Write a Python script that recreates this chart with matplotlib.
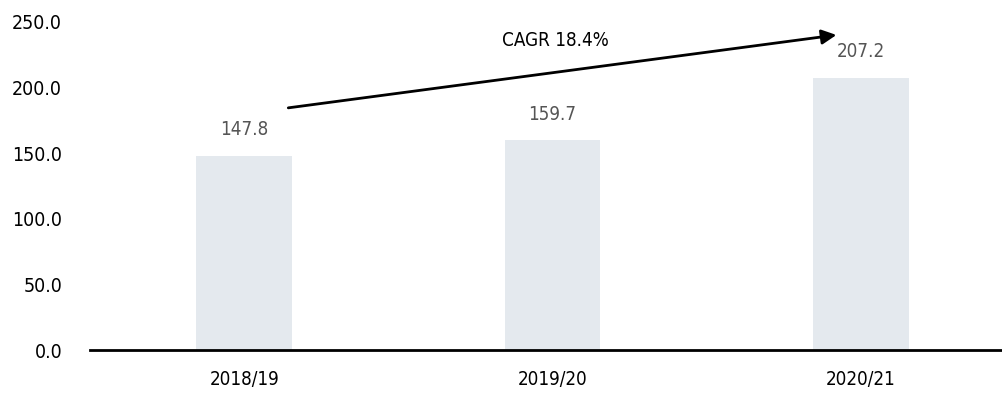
import matplotlib.pyplot as plt

years = ['2018/19', '2019/20', '2020/21']
values = [147.8, 159.7, 207.2]
yticks = [0, 50, 100, 150, 200, 250]
cagr_label = 'CAGR 18.4%'

plt.rcParams['font.family'] = ['DejaVu Sans']
plt.rcParams['font.stretch'] = 'condensed'

fig = plt.figure(figsize=(10.03, 3.97), dpi=100)
ax = fig.add_axes([0.0897, 0.118, 0.9103, 0.827])

x = range(len(years))
ax.bar(x, values, width=0.31, color='#e4e9ee', zorder=1)

for xi, v in zip(x, values):
    ax.annotate(f'{v:.1f}', (xi, v), xytext=(0, 12), textcoords='offset points',
                ha='center', va='bottom', fontsize=13.5, color='#555555')

ax.set_xlim(-0.5, 2.46)
ax.set_ylim(0, 250)
ax.set_yticks(yticks)
ax.set_yticklabels([f'{t:.1f}' for t in yticks])
ax.set_xticks(list(x))
ax.set_xticklabels(years)
ax.tick_params(axis='both', length=0, labelsize=13.5, colors='black')
ax.tick_params(axis='y', pad=20, labelsize=14)
ax.tick_params(axis='x', pad=14)

for s in ['top', 'right', 'left']:
    ax.spines[s].set_visible(False)
ax.spines['bottom'].set_linewidth(2)

# CAGR arrow
ax.annotate('', xy=(1.92, 240), xytext=(0.143, 184.5),
            arrowprops=dict(arrowstyle='-|>', color='black', lw=2,
                            mutation_scale=22, shrinkA=0, shrinkB=0))
ax.text(1.01, 235.5, cagr_label, ha='center', va='center', fontsize=13.5)

fig.savefig('out.png', dpi=100)
